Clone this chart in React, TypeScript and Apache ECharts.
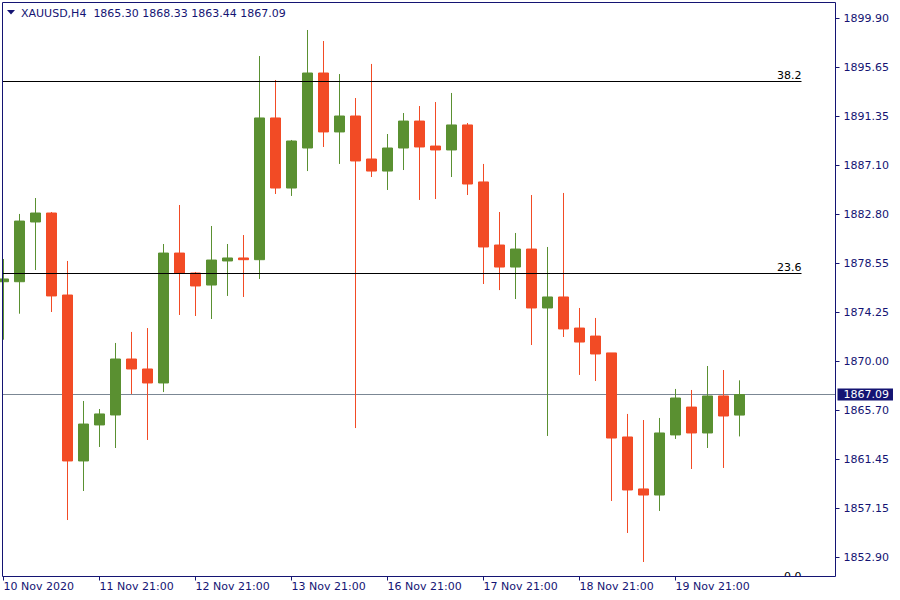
import React, { useEffect, useRef } from "react";
import * as echarts from "echarts";

// ---- data ----
const categories = [
  "10 Nov 21:00",
  "11 Nov 01:00", "11 Nov 05:00", "11 Nov 09:00", "11 Nov 13:00", "11 Nov 17:00", "11 Nov 21:00",
  "12 Nov 01:00", "12 Nov 05:00", "12 Nov 09:00", "12 Nov 13:00", "12 Nov 17:00", "12 Nov 21:00",
  "13 Nov 01:00", "13 Nov 05:00", "13 Nov 09:00", "13 Nov 13:00", "13 Nov 17:00", "13 Nov 21:00",
  "16 Nov 01:00", "16 Nov 05:00", "16 Nov 09:00", "16 Nov 13:00", "16 Nov 17:00", "16 Nov 21:00",
  "17 Nov 01:00", "17 Nov 05:00", "17 Nov 09:00", "17 Nov 13:00", "17 Nov 17:00", "17 Nov 21:00",
  "18 Nov 01:00", "18 Nov 05:00", "18 Nov 09:00", "18 Nov 13:00", "18 Nov 17:00", "18 Nov 21:00",
  "19 Nov 01:00", "19 Nov 05:00", "19 Nov 09:00", "19 Nov 13:00", "19 Nov 17:00", "19 Nov 21:00",
  "20 Nov 01:00", "20 Nov 05:00", "20 Nov 09:00", "20 Nov 13:00",
];
const futureSlots = ["", "", "", "", "", ""];
const firstDateLabel = "10 Nov 2020";
const labelEvery = 6;

const opens = [
  1876.93, 1876.93, 1882.14, 1882.92, 1875.77, 1861.30, 1864.44, 1865.31, 1870.19, 1869.32,
  1868.10, 1879.43, 1877.69, 1876.64, 1878.74, 1879.00, 1878.85, 1891.21, 1885.10, 1888.59,
  1895.13, 1889.99, 1891.38, 1887.63, 1886.58, 1888.59, 1890.94, 1888.76, 1888.42, 1890.60,
  1885.63, 1880.13, 1878.21, 1879.78, 1874.64, 1875.60, 1872.89, 1872.19, 1870.72, 1863.39,
  1858.86, 1858.33, 1863.57, 1866.00, 1863.74, 1866.97, 1865.30,
];
const highs = [
  1878.91, 1882.84, 1884.23, 1883.01, 1878.74, 1866.53, 1865.83, 1871.59, 1872.55, 1872.89,
  1880.22, 1883.62, 1877.78, 1881.79, 1880.22, 1881.00, 1896.61, 1894.52, 1889.29, 1898.88,
  1897.92, 1895.04, 1892.95, 1895.92, 1889.81, 1891.64, 1892.25, 1892.60, 1893.39, 1890.77,
  1887.20, 1883.01, 1881.18, 1884.49, 1879.96, 1884.67, 1874.64, 1873.77, 1870.72, 1865.40,
  1864.87, 1865.05, 1867.58, 1867.49, 1869.58, 1869.23, 1868.33,
];
const lows = [
  1871.87, 1874.14, 1877.95, 1874.29, 1856.15, 1858.68, 1862.52, 1862.43, 1867.14, 1863.13,
  1867.31, 1874.03, 1873.94, 1873.68, 1875.69, 1875.60, 1877.17, 1884.58, 1884.41, 1886.58,
  1888.68, 1887.20, 1864.17, 1886.06, 1884.93, 1886.67, 1884.06, 1884.14, 1886.06, 1884.49,
  1876.73, 1876.20, 1875.42, 1871.41, 1863.48, 1872.11, 1868.80, 1868.27, 1857.81, 1855.02,
  1852.49, 1856.94, 1863.22, 1860.60, 1862.43, 1860.69, 1863.44,
];
const closes = [
  1877.17, 1882.22, 1882.92, 1875.69, 1861.30, 1864.52, 1865.40, 1870.19, 1869.32, 1868.10,
  1879.43, 1877.69, 1876.56, 1878.82, 1879.00, 1878.85, 1891.21, 1885.10, 1889.20, 1895.13,
  1889.99, 1891.38, 1887.46, 1886.58, 1888.59, 1890.94, 1888.68, 1888.42, 1890.60, 1885.45,
  1879.96, 1878.21, 1879.78, 1874.64, 1875.60, 1872.81, 1871.67, 1870.63, 1863.30, 1858.77,
  1858.33, 1863.74, 1866.79, 1863.74, 1866.97, 1865.22, 1867.09,
];

const yTicks = [
  1899.9, 1895.65, 1891.35, 1887.1, 1882.8, 1878.55, 1874.25, 1870.0, 1865.7, 1861.45, 1857.15, 1852.9,
];
const yMin = 1851.225;
const yMax = 1901.278;

const fibLabels = ["38.2", "23.6", "0.0"];
const fibPrices = [1894.41, 1877.69, 1850.66];
const fibEndIndex = 50;

const symbolName = "XAUUSD,H4";

// ---- styles ----
const NAVY = "#141473";
const GREEN = "#5a9031";
const RED = "#f24b25";
const BIDLINE = "#7b8794";
const FONT = "DejaVu Sans";

export default function App() {
  const ref = useRef<HTMLDivElement>(null);

  useEffect(() => {
    if (!ref.current) return;
    const chart = echarts.init(ref.current, undefined, { renderer: "svg" });
    const last = opens.length - 1;
    const bid = closes[last];
    const title =
      symbolName + "\u00a0 " +
      [opens[last], highs[last], lows[last], closes[last]].map((v) => v.toFixed(2)).join(" ");

    const xData = [...categories, ...futureSlots];
    const lastSlot = xData.length - 1;
    const showIdx = (i: number) => i % labelEvery === 0 && i < categories.length;

    const candleData = opens.map((o, i) => [o, closes[i], lows[i], highs[i]]);
    const crisp = (v: number) => Math.round(v - 0.5) + 0.5;

    const option: any = {
      animation: false,
      grid: { left: 3.5, top: 2.5, right: 64.5, bottom: 23.5, containLabel: false },
      xAxis: {
        type: "category",
        boundaryGap: false,
        data: xData,
        axisLine: { show: false },
        axisTick: { show: true, interval: (i: number) => showIdx(i), length: 4, lineStyle: { color: NAVY } },
        axisLabel: {
          interval: (i: number) => showIdx(i),
          align: "left",
          margin: 4,
          color: NAVY,
          fontFamily: FONT,
          fontSize: 11,
          formatter: (v: string, i: number) => (i === 0 ? firstDateLabel : v),
        },
        splitLine: { show: false },
      },
      yAxis: {
        type: "value",
        position: "right",
        min: yMin,
        max: yMax,
        axisLine: { show: false },
        axisTick: { show: true, customValues: yTicks, length: 4, lineStyle: { color: NAVY } },
        axisLabel: {
          customValues: yTicks,
          formatter: (v: number) => v.toFixed(2),
          margin: 8,
          color: NAVY,
          fontFamily: FONT,
          fontSize: 11,
        },
        splitLine: { show: false },
      },
      series: [
        {
          // bid line (crisp), drawn through the axes
          type: "custom",
          clip: true,
          z: 1,
          silent: true,
          data: [[0, bid]],
          encode: { x: 0, y: 1 },
          renderItem: (_params: any, api: any) => {
            const a = api.coord([0, api.value(1)]);
            const b = api.coord([lastSlot, api.value(1)]);
            const y = crisp(a[1]);
            return {
              type: "line",
              shape: { x1: a[0] - 1, y1: y, x2: b[0] + 1, y2: y },
              style: { stroke: BIDLINE, lineWidth: 1 },
            };
          },
        },
        {
          type: "candlestick",
          data: candleData,
          barWidth: 10,
          clip: true,
          z: 2,
          itemStyle: {
            color: GREEN,
            color0: RED,
            borderColor: GREEN,
            borderColor0: RED,
            borderWidth: 1,
          },
          emphasis: { disabled: true },
          markLine: {
            symbol: ["none", "none"],
            silent: true,
            animation: false,
            lineStyle: { color: "rgba(0,0,0,0)", width: 1, type: "solid" },
            label: {
              show: true,
              position: "end",
              distance: 2,
              formatter: () => bid.toFixed(2),
              color: "#ffffff",
              backgroundColor: NAVY,
              padding: [1, 4, 0, 6],
              fontFamily: FONT,
              fontSize: 11,
            },
            emphasis: { disabled: true },
            data: [{ yAxis: bid }],
          },
        },
        {
          type: "custom",
          clip: true,
          z: 5,
          silent: true,
          data: fibPrices.map((p, i) => [0, p, i]),
          encode: { x: 0, y: 1 },
          renderItem: (_params: any, api: any) => {
            const price = api.value(1);
            const label = fibLabels[api.value(2)];
            const a = api.coord([0, price]);
            const b = api.coord([fibEndIndex, price]);
            const y = crisp(a[1]);
            const xEnd = b[0] - 2;
            return {
              type: "group",
              children: [
                {
                  type: "line",
                  shape: { x1: a[0] - 1, y1: y, x2: xEnd, y2: y },
                  style: { stroke: "#000000", lineWidth: 1 },
                },
                {
                  type: "text",
                  x: xEnd,
                  y: y - 1,
                  style: {
                    text: label,
                    align: "right",
                    verticalAlign: "bottom",
                    fill: "#000000",
                    font: `11px "${FONT}"`,
                  },
                },
              ],
            };
          },
        },
      ],
      graphic: [
        {
          type: "rect",
          z: 100,
          silent: true,
          shape: { x: 2.5, y: 2.5, width: 833, height: 574 },
          style: { fill: "none", stroke: NAVY, lineWidth: 1 },
        },
        {
          type: "polygon",
          silent: true,
          shape: { points: [[7, 10], [15, 10], [11, 14.5]] },
          style: { fill: NAVY },
        },
        {
          type: "text",
          silent: true,
          x: 21,
          y: 13,
          style: { text: title, fill: NAVY, font: `11px "${FONT}"`, verticalAlign: "middle" },
        },
      ],
    };

    chart.setOption(option);
    return () => chart.dispose();
  }, []);

  return (
    <div
      ref={ref}
      style={{ position: "absolute", left: 0, top: 0, width: 900, height: 600, background: "#ffffff" }}
    />
  );
}
